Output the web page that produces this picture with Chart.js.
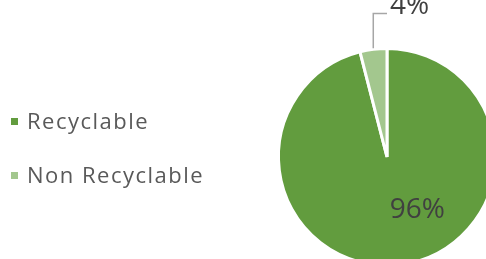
<!DOCTYPE html>
<html>
<head>
<meta charset="utf-8">
<script src="https://cdn.jsdelivr.net/npm/chart.js@4"></script>
<style>
  html, body { margin: 0; padding: 0; background: #fff; overflow: hidden; }
  #wrap { width: 486px; height: 259px; overflow: hidden; position: relative; }
  canvas { display: block; }
</style>
</head>
<body>
<div id="wrap"><canvas id="pie" width="510" height="275"></canvas></div>
<script>
const categories = ["Recyclable", "Non Recyclable"];
const shares = [96, 4];
const pctLabels = ["96%", "4%"];
const colors = ["#629C3E", "#A3C78E"];

const FONT = "'Open Sans', Lato, sans-serif";

// labels + leader line + legend, drawn after the pie
const labelPlugin = {
  id: "labels",
  afterDraw(chart) {
    const ctx = chart.ctx;
    const arcs = chart.getDatasetMeta(0).data;
    const big = arcs[0];
    const small = arcs[1];
    const cx = big.x, cy = big.y, r = big.outerRadius;

    ctx.save();
    // 96% inside label
    ctx.fillStyle = "#404040";
    ctx.font = "28px " + FONT;
    ctx.textAlign = "center";
    ctx.textBaseline = "middle";
    ctx.fillText(pctLabels[0], cx + 0.28 * r, cy + 0.49 * r);

    // leader line for 4%
    const mid = (small.startAngle + small.endAngle) / 2;
    const px = cx + Math.cos(mid) * (r + 1);
    const py = cy + Math.sin(mid) * (r + 1);
    ctx.strokeStyle = "#A6A6A6";
    ctx.lineWidth = 1.5;
    ctx.beginPath();
    ctx.moveTo(px, py);
    ctx.lineTo(px, cy - r - 35);
    ctx.lineTo(cx, cy - r - 35);
    ctx.stroke();
    ctx.textAlign = "left";
    ctx.textBaseline = "alphabetic";
    ctx.fillText(pctLabels[1], cx + 3, cy - r - 35);

    // legend
    ctx.font = "22px " + FONT;
    ctx.letterSpacing = "1.5px";
    categories.forEach((name, i) => {
      const y = 122 + i * 54;
      ctx.fillStyle = colors[i];
      ctx.fillRect(11, y - 4, 7, 7);
      ctx.fillStyle = "#595959";
      ctx.textBaseline = "middle";
      ctx.fillText(name, 27, y + 1);
    });
    ctx.restore();
  }
};

new Chart(document.getElementById("pie"), {
  type: "pie",
  data: {
    labels: categories,
    datasets: [
      {
        data: shares,
        backgroundColor: colors,
        borderColor: "#ffffff",
        borderWidth: 3,
      },
    ],
  },
  options: {
    responsive: false,
    animation: false,
    layout: { padding: { left: 277, top: 47, right: 13, bottom: 8 } },
    plugins: {
      legend: { display: false },
      tooltip: { enabled: false },
    },
  },
  plugins: [labelPlugin],
});
</script>
</body>
</html>
